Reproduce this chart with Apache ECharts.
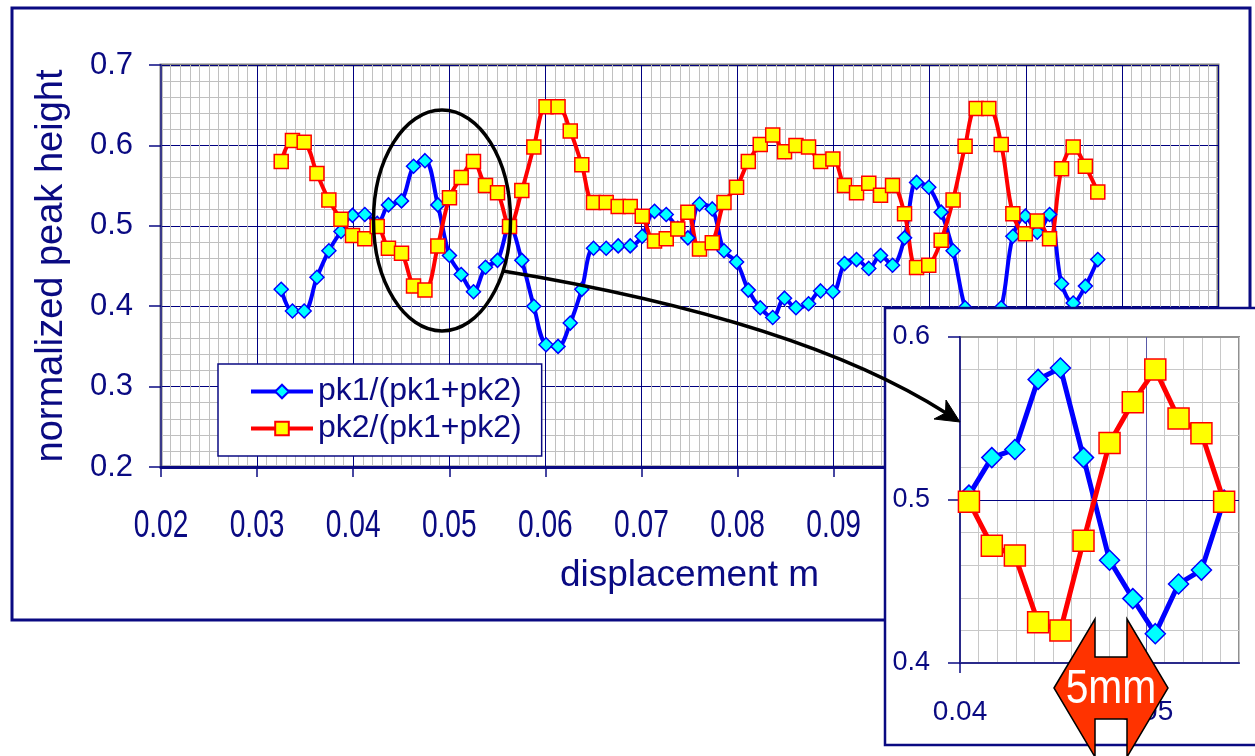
<!DOCTYPE html>
<html><head><meta charset="utf-8">
<script src="https://cdn.jsdelivr.net/npm/echarts@6/dist/echarts.min.js"></script>
<style>html,body{margin:0;padding:0;background:#fff}#c{width:1255px;height:756px}</style>
</head><body><div id="c"></div>
<script>
// ---- data ----
const displacement = [0.03251, 0.03368, 0.0349, 0.03623, 0.03747, 0.03873, 0.03993, 0.04121, 0.0425, 0.04367,
  0.04503, 0.04628, 0.04747, 0.04881, 0.05002, 0.05124, 0.05252, 0.05377, 0.05502, 0.05627,
  0.05755, 0.0588, 0.06007, 0.06132, 0.06259, 0.06379, 0.06501, 0.06633, 0.06758, 0.06883,
  0.07008, 0.07136, 0.07258, 0.07378, 0.07483, 0.07604, 0.07737, 0.07859, 0.0799, 0.08112,
  0.08236, 0.08366, 0.08489, 0.08608, 0.08739, 0.08864, 0.08992, 0.09113, 0.09238, 0.09366,
  0.09488, 0.09613, 0.09738, 0.09863, 0.0999, 0.10119, 0.10243, 0.10368, 0.10484, 0.10615,
  0.10744, 0.10865, 0.10995, 0.11119, 0.11247, 0.11372, 0.11493, 0.1162, 0.11749];
const pk1 = [0.421, 0.394, 0.394, 0.436, 0.469, 0.493, 0.513, 0.514, 0.503, 0.526,
  0.531, 0.574, 0.581, 0.526, 0.463, 0.4395, 0.418, 0.4485, 0.457, 0.500,
  0.457, 0.400, 0.352, 0.350, 0.379, 0.421, 0.472, 0.472, 0.475, 0.475,
  0.487, 0.518, 0.514, 0.497, 0.485, 0.527, 0.521, 0.469, 0.455, 0.420,
  0.398, 0.386, 0.410, 0.398, 0.403, 0.419, 0.418, 0.453, 0.458, 0.447,
  0.463, 0.451, 0.485, 0.554, 0.548, 0.517, 0.469, 0.398, 0.370, 0.370,
  0.398, 0.487, 0.512, 0.492, 0.514, 0.428, 0.404, 0.425, 0.458];
const pk2 = [0.580, 0.606, 0.604, 0.565, 0.532, 0.508, 0.488, 0.484, 0.499, 0.472,
  0.466, 0.425, 0.420, 0.475, 0.535, 0.560, 0.580, 0.550, 0.541, 0.499,
  0.544, 0.598, 0.648, 0.648, 0.618, 0.576, 0.529, 0.529, 0.524, 0.524,
  0.512, 0.481, 0.484, 0.496, 0.517, 0.471, 0.479, 0.529, 0.548, 0.580,
  0.601, 0.613, 0.592, 0.600, 0.598, 0.580, 0.583, 0.550, 0.541, 0.553,
  0.538, 0.550, 0.515, 0.448, 0.451, 0.482, 0.532, 0.599, 0.646, 0.646,
  0.601, 0.515, 0.490, 0.506, 0.484, 0.571, 0.598, 0.574, 0.542];
// inset (zoomed view) displacement values, as labelled on the inset axis
const insetDisplacement = [0.04048, 0.04171, 0.04295, 0.0442, 0.0454, 0.04664, 0.04804, 0.04929, 0.0505, 0.05175, 0.05298, 0.0542];
const insetStart = 8, insetEnd = 20; // points of the main series shown in the inset
const insetPk1 = pk1.slice(insetStart, insetEnd);
const insetPk2 = pk2.slice(insetStart, insetEnd);
const mainXTicks = [0.02, 0.13, 0.01];   // min, max, interval
const mainXTickLabels = ['0.02', '0.03', '0.04', '0.05', '0.06', '0.07', '0.08', '0.09', '0.10', '0.11', '0.12'];
const mainYTicks = [0.2, 0.7, 0.1];
const insetXTickValues = [0.04, 0.05];
const insetYTicks = [0.4, 0.6, 0.1];
const seriesNames = ['pk1/(pk1+pk2)', 'pk2/(pk1+pk2)'];

// ---- styling ----
const NAVY = '#0a0a82';
const REG = "'Liberation Sans',Arial,sans-serif";
const zip = (xs, ys) => xs.map((x, i) => [x, ys[i]]);

const blueStyle = (sz, w, smooth) => ({
  type: 'line', smooth: smooth, symbol: 'diamond', symbolSize: sz,
  lineStyle: {color: '#0000ff', width: w},
  itemStyle: {color: '#00ffff', borderColor: '#0000ff', borderWidth: 1.5}
});
const redStyle = (sz, w, smooth) => ({
  type: 'line', smooth: smooth, symbol: 'rect', symbolSize: sz,
  lineStyle: {color: '#ff0000', width: w},
  itemStyle: {color: '#ffff00', borderColor: '#ff0000', borderWidth: 1.5}
});

const chart = echarts.init(document.getElementById('c'), null, {renderer: 'canvas'});
const baseGraphics = [
  {type: 'rect', z: 1, silent: true, shape: {x: 12, y: 8, width: 1238, height: 612}, style: {fill: null, stroke: NAVY, lineWidth: 3}},
  {type: 'rect', z: 10, silent: true, shape: {x: 885, y: 308, width: 380, height: 437}, style: {fill: '#fff', stroke: NAVY, lineWidth: 2.5}},
  {type: 'ellipse', z: 50, silent: true, shape: {cx: 442, cy: 220.5, rx: 68.5, ry: 110.5}, style: {fill: null, stroke: '#000', lineWidth: 3.5}},
  {type: 'bezierCurve', z: 50, silent: true, shape: {x1: 503, y1: 271, cpx1: 800, cpy1: 320, x2: 946, y2: 413}, style: {fill: null, stroke: '#000', lineWidth: 3.5}},
  {type: 'polygon', z: 50, silent: true, shape: {points: [[960, 422], [946, 400], [945.5, 413], [934, 419]]}, style: {fill: '#000', stroke: '#000', lineWidth: 1}},
  {type: 'polygon', z: 60, silent: true, shape: {points: [[1054, 688], [1095, 619], [1095, 657], [1127, 657], [1127, 619], [1168, 688], [1127, 757], [1127, 719], [1095, 719], [1095, 757]]},
    style: {fill: '#ff3300', stroke: '#000', lineWidth: 1.5}},
  {type: 'text', z: 61, silent: true, x: 1111, y: 690, scaleX: 0.85, style: {text: '5mm', fill: '#fff', fontSize: 48, fontFamily: REG, align: 'center', verticalAlign: 'middle'}}
];

chart.setOption({
  animation: false,
  backgroundColor: '#fff',
  grid: [
    {left: 161, top: 65, right: 37, bottom: 289, show: true, backgroundColor: '#fff', borderColor: '#808080', borderWidth: 3, z: 1},
    {left: 960, top: 337, right: 16, bottom: 93, show: true, backgroundColor: '#fff', borderColor: '#909090', borderWidth: 2, z: 15}
  ],
  legend: {
    data: seriesNames, left: 218, top: 364, orient: 'vertical', z: 6,
    backgroundColor: '#fff', borderColor: NAVY, borderWidth: 1.5, borderRadius: 0,
    padding: [9, 20, 9, 31], itemGap: 0, itemWidth: 62, itemHeight: 17, itemTextGap: 9,
    lineStyle: {width: 4},
    textStyle: {color: NAVY, fontSize: 32, fontFamily: REG, lineHeight: 37}
  },
  xAxis: [
    {gridIndex: 0, type: 'value', min: mainXTicks[0], max: mainXTicks[1], interval: mainXTicks[2], z: 2,
      axisLine: {show: true, lineStyle: {color: NAVY, width: 3}},
      axisTick: {show: true, inside: false, length: 10, lineStyle: {color: NAVY, width: 1.5}},
      axisLabel: {show: false},
      splitLine: {show: true, lineStyle: {color: '#000080', width: 1}},
      minorTick: {show: false, splitNumber: 10},
      minorSplitLine: {show: true, lineStyle: {color: '#c0c0c0', width: 1}},
      name: 'displacement m', nameLocation: 'middle', nameGap: 90,
      nameTextStyle: {color: NAVY, fontSize: 37, fontFamily: REG}},
    {gridIndex: 1, type: 'value', min: 0.04, max: 0.055, interval: 0.01, z: 21,
      axisLine: {show: true, lineStyle: {color: '#2a2a8a', width: 2}},
      axisTick: {show: true, length: 10, customValues: insetXTickValues, lineStyle: {color: NAVY, width: 1.5}},
      axisLabel: {margin: 35, color: NAVY, fontSize: 28, fontFamily: REG, customValues: insetXTickValues, formatter: v => v.toFixed(2)},
      splitLine: {show: true, lineStyle: {color: ['#5a5aa8', '#5a5aa8', '#909090'], width: 1}}},
    {gridIndex: 1, type: 'value', min: 0.04, max: 0.055, interval: 0.001, z: 20,
      axisLine: {show: false}, axisTick: {show: false}, axisLabel: {show: false},
      splitLine: {show: true, lineStyle: {color: '#c8c8c8', width: 1}}}
  ],
  yAxis: [
    {gridIndex: 0, type: 'value', min: mainYTicks[0], max: mainYTicks[1], interval: mainYTicks[2], z: 2,
      axisLine: {show: true, lineStyle: {color: '#3a3a8a', width: 2}},
      axisTick: {show: true, length: 12, lineStyle: {color: NAVY, width: 1.5}},
      axisLabel: {margin: 28, color: NAVY, fontSize: 31, fontFamily: REG, formatter: v => v.toFixed(1)},
      splitLine: {show: true, lineStyle: {color: '#000080', width: 1}},
      minorTick: {show: false, splitNumber: 5},
      minorSplitLine: {show: true, lineStyle: {color: '#c0c0c0', width: 1}},
      name: 'normalized peak height', nameLocation: 'middle', nameGap: 90,
      nameTextStyle: {color: NAVY, fontSize: 38, fontFamily: REG}},
    {gridIndex: 1, type: 'value', min: insetYTicks[0], max: insetYTicks[1], interval: insetYTicks[2], z: 21,
      axisLine: {show: true, lineStyle: {color: '#2a2a8a', width: 2}},
      axisTick: {show: true, length: 12, lineStyle: {color: NAVY, width: 1.5}},
      axisLabel: {margin: 30, color: NAVY, fontSize: 27, fontFamily: REG, formatter: v => v.toFixed(1)},
      splitLine: {show: true, lineStyle: {color: ['#000080', '#000080', '#909090'], width: 1}},
      minorTick: {show: false, splitNumber: 5},
      minorSplitLine: {show: true, lineStyle: {color: '#c8c8c8', width: 1}}}
  ],
  series: [
    Object.assign(blueStyle(14, 4, 0.35), {name: seriesNames[0], xAxisIndex: 0, yAxisIndex: 0, z: 3, data: zip(displacement, pk1)}),
    Object.assign(redStyle(14, 4, 0.35), {name: seriesNames[1], xAxisIndex: 0, yAxisIndex: 0, z: 3, data: zip(displacement, pk2)}),
    Object.assign(blueStyle(20, 5, false), {name: seriesNames[0], xAxisIndex: 1, yAxisIndex: 1, z: 30, data: zip(insetDisplacement, insetPk1)}),
    Object.assign(redStyle(21, 5, false), {name: seriesNames[1], xAxisIndex: 1, yAxisIndex: 1, z: 30, data: zip(insetDisplacement, insetPk2)})
  ],
  graphic: baseGraphics
});

// main x tick labels: condensed text placed at the axis' own tick positions
const axisY = chart.convertToPixel({yAxisIndex: 0}, mainYTicks[0]);
const tickLabelGraphics = mainXTickLabels.map(t => ({
  type: 'text', z: 3, silent: true,
  x: chart.convertToPixel({xAxisIndex: 0}, parseFloat(t)), y: axisY + 60, scaleX: 0.74,
  style: {text: t, fill: NAVY, fontSize: 38, fontFamily: REG, align: 'center', verticalAlign: 'middle'}
}));
chart.setOption({graphic: baseGraphics.concat(tickLabelGraphics)});
</script></body></html>
